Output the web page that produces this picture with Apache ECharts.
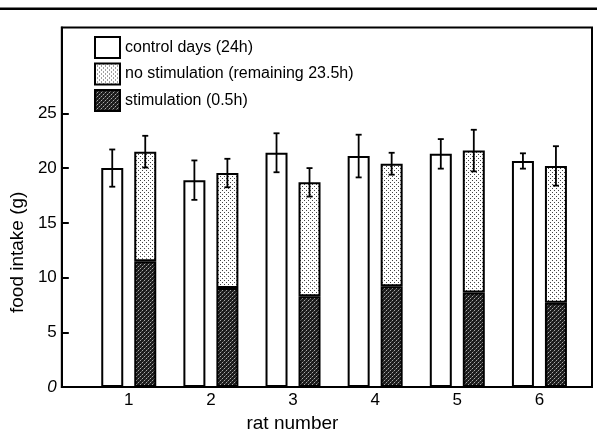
<!DOCTYPE html>
<html>
<head>
<meta charset="utf-8">
<script src="https://cdn.jsdelivr.net/npm/echarts@6/dist/echarts.min.js"></script>
<style>
html,body{margin:0;padding:0;background:#fff;}
#chart{width:597px;height:438px;}
</style>
</head>
<body>
<div id="chart"></div>
<script>
// ---- data ----
const categories = ['1', '2', '3', '4', '5', '6'];
const controlMean = [20.0, 18.9, 21.4, 21.1, 21.3, 20.65];
const controlErr  = [1.7, 1.8, 1.78, 1.95, 1.35, 0.7];
const stimMean    = [11.5, 9.05, 8.3, 9.2, 8.65, 7.7];
const noStimMean  = [10.0, 10.5, 10.4, 11.2, 12.95, 12.5];
const totalErr    = [1.45, 1.3, 1.3, 1.0, 1.9, 1.8];
const yTicks = [0, 5, 10, 15, 20, 25];
const legendNames = ['control days (24h)', 'no stimulation (remaining 23.5h)', 'stimulation (0.5h)'];

// ---- styling ----
const FONT = "'Liberation Sans', Arial, Helvetica, sans-serif";
const BAR_W = 22, BAR_GAP = 11;
const OFFSET = (BAR_W + BAR_GAP) / 2;

function makePattern(bg, dots, size) {
  const c = document.createElement('canvas');
  c.width = size; c.height = size;
  const g = c.getContext('2d');
  g.fillStyle = bg; g.fillRect(0, 0, size, size);
  dots.forEach(d => { g.fillStyle = d[2]; g.fillRect(d[0], d[1], 1, 1); });
  return { image: c, repeat: 'repeat' };
}
const lightPat = makePattern('#ffffff', [[0,0,'#444'],[2,2,'#444']], 4);
const darkPat = makePattern('#1c1c1c', [[0,0,'#aaa'],[2,2,'#aaa'],[1,3,'#555'],[3,1,'#555']], 4);

const xPos = categories.map((c, i) => i + 1);
// value first, rat position second (so stacking acts on the value dimension)
const controlData = xPos.map((x, i) => [controlMean[i], x]);
const stimData = xPos.map((x, i) => [stimMean[i], x]);
const noStimData = xPos.map((x, i) => [noStimMean[i], x]);
const controlErrData = xPos.map((x, i) => [x, controlMean[i] - controlErr[i], controlMean[i] + controlErr[i]]);
const totalErrData = xPos.map((x, i) => {
  const t = stimMean[i] + noStimMean[i];
  return [x, t - totalErr[i], t + totalErr[i]];
});

function errRender(offset) {
  return function (params, api) {
    const x = api.value(0);
    const lo = api.coord([x, api.value(1)]);
    const hi = api.coord([x, api.value(2)]);
    const cx = lo[0] + offset;
    const cap = 3;
    const st = { stroke: '#000', lineWidth: 1.8 };
    return {
      type: 'group',
      children: [
        { type: 'line', shape: { x1: cx, y1: hi[1], x2: cx, y2: lo[1] }, style: st },
        { type: 'line', shape: { x1: cx - cap, y1: hi[1], x2: cx + cap, y2: hi[1] }, style: st },
        { type: 'line', shape: { x1: cx - cap, y1: lo[1], x2: cx + cap, y2: lo[1] }, style: st }
      ]
    };
  };
}

const chart = echarts.init(document.getElementById('chart'), null, { renderer: 'canvas' });
const barBorder = { borderColor: '#000', borderWidth: 2 };
const barEncode = { x: 1, y: 0 };

chart.setOption({
  animation: false,
  backgroundColor: '#fff',
  textStyle: { fontFamily: FONT, color: '#000' },
  graphic: [
    { type: 'line', shape: { x1: 0, y1: 8.7, x2: 597, y2: 8.7 }, style: { stroke: '#000', lineWidth: 2.5 } }
  ],
  grid: {
    left: 59, right: 5, top: 27.5, bottom: 44,
    show: true, borderColor: '#000', borderWidth: 2, backgroundColor: 'transparent'
  },
  legend: {
    orient: 'vertical', left: 89, top: 31,
    itemWidth: 25, itemHeight: 21, itemGap: 3.5,
    icon: 'rect', selectedMode: false,
    data: legendNames,
    textStyle: { fontFamily: FONT, fontSize: 16, color: '#000' }
  },
  xAxis: {
    type: 'value', min: 0.185, max: 6.64,
    name: 'rat number', nameLocation: 'middle', nameGap: 22,
    nameTextStyle: { fontFamily: FONT, fontSize: 19, color: '#000', padding: [0, 69, 0, 0] },
    axisLine: { show: true, lineStyle: { color: '#000', width: 2 } },
    axisTick: { show: false },
    splitLine: { show: false },
    axisLabel: {
      customValues: xPos, margin: 5,
      fontFamily: FONT, fontSize: 17, color: '#000',
      formatter: v => categories[Math.round(v) - 1] || ''
    }
  },
  yAxis: {
    type: 'value', min: 0, max: 32.84,
    name: 'food intake (g)', nameLocation: 'middle', nameRotate: 90, nameGap: 24,
    nameTextStyle: { fontFamily: FONT, fontSize: 19, color: '#000', padding: [0, 90, 0, 0] },
    axisLine: { show: true, lineStyle: { color: '#000', width: 2 } },
    axisTick: { show: true, inside: true, length: 7, customValues: yTicks, lineStyle: { color: '#000', width: 2 } },
    splitLine: { show: false },
    axisLabel: {
      customValues: yTicks, margin: 5,
      fontFamily: FONT, fontSize: 17, color: '#000',
      formatter: v => v === 0 ? '{i|0}' : String(v),
      rich: { i: { fontStyle: 'italic', fontFamily: FONT, fontSize: 17, color: '#000' } }
    }
  },
  series: [
    {
      name: legendNames[0], type: 'bar', data: controlData, encode: barEncode,
      barWidth: BAR_W, barGap: (BAR_GAP / BAR_W * 100) + '%',
      itemStyle: Object.assign({ color: '#fff' }, barBorder)
    },
    {
      name: legendNames[2], type: 'bar', stack: 'day', data: stimData, encode: barEncode,
      barWidth: BAR_W,
      itemStyle: Object.assign({ color: darkPat }, barBorder)
    },
    {
      name: legendNames[1], type: 'bar', stack: 'day', data: noStimData, encode: barEncode,
      barWidth: BAR_W,
      itemStyle: Object.assign({ color: lightPat }, barBorder)
    },
    {
      type: 'custom', data: controlErrData, renderItem: errRender(-OFFSET), z: 5,
      encode: { x: 0, y: [1, 2] }, silent: true
    },
    {
      type: 'custom', data: totalErrData, renderItem: errRender(OFFSET), z: 5,
      encode: { x: 0, y: [1, 2] }, silent: true
    }
  ]
});
</script>
</body>
</html>
